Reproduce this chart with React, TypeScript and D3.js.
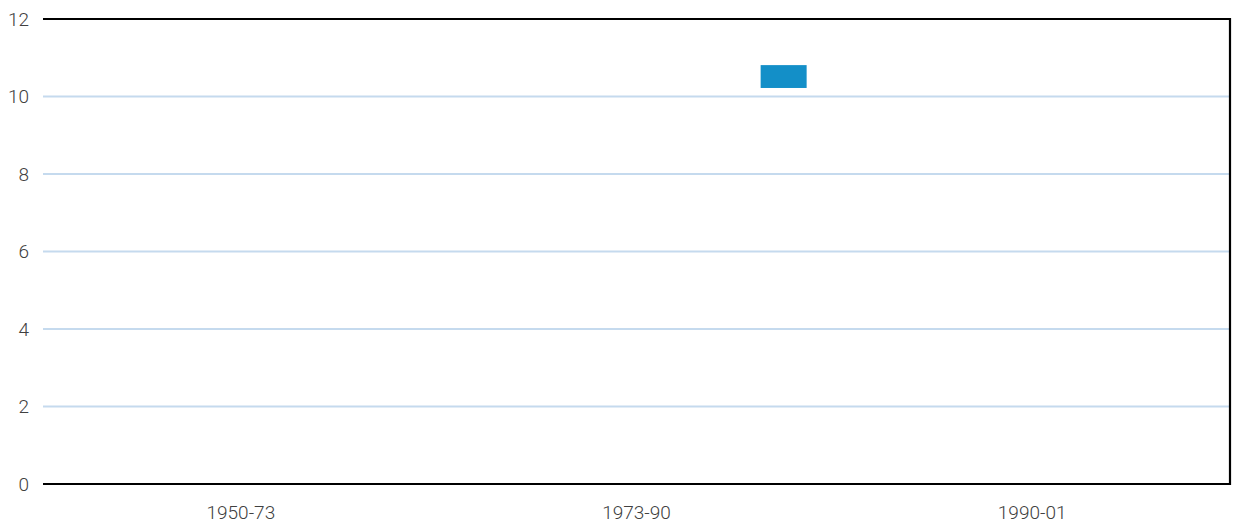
import React from "react";
import * as d3 from "d3";

const categories = ["1950-73", "1973-90", "1990-01"];
const seriesKeys = ["s1", "s2", "s3", "s4", "s5", "s6", "s7", "s8"];
// floating bars: category, series, low, high
const barCategory = ["1973-90"];
const barSeries = ["s8"];
const barLow = [10.22];
const barHigh = [10.81];
const yTicks = [0, 2, 4, 6, 8, 10, 12];

const W = 1237;
const H = 527;
const margin = { left: 43, right: 7, top: 19, bottom: 43 };

export default function App() {
  const x = d3
    .scaleBand<string>()
    .domain(categories)
    .range([margin.left, W - margin.right])
    .padding(0);
  const bw = x.bandwidth();
  const x1 = d3.scaleBand<string>().domain(seriesKeys).range([0, bw * 0.93]).padding(0);
  const y = d3.scaleLinear().domain([0, 12]).range([H - margin.bottom, margin.top]);
  const font = "Roboto, 'Open Sans', sans-serif";
  const x0 = margin.left;
  const xEnd = W - margin.right;

  return (
    <svg
      width={W}
      height={H}
      style={{ position: "absolute", left: 0, top: 0, background: "#fff" }}
    >
      {yTicks.map((t) => (
        <g key={t}>
          {t > 0 && t < 12 && (
            <line x1={x0} x2={xEnd} y1={y(t)} y2={y(t)} stroke="#c5daee" strokeWidth={2} />
          )}
          <text
            x={29}
            y={y(t)}
            textAnchor="end"
            dominantBaseline="central"
            fontFamily={font}
            fontWeight={300}
            fontSize={19}
            fill="#404040"
          >
            {t}
          </text>
        </g>
      ))}
      {barCategory.map((c, i) => (
        <rect
          key={i}
          x={(x(c) as number) + (x1(barSeries[i]) as number)}
          width={x1.bandwidth()}
          y={y(barHigh[i])}
          height={y(barLow[i]) - y(barHigh[i])}
          fill="#138fc8"
        />
      ))}
      <line x1={x0} x2={xEnd} y1={y(12)} y2={y(12)} stroke="#000" strokeWidth={2.2} />
      <line x1={x0} x2={xEnd} y1={y(0)} y2={y(0)} stroke="#000" strokeWidth={2.2} />
      <line x1={xEnd} x2={xEnd} y1={y(12) - 1} y2={y(0) + 1} stroke="#000" strokeWidth={2.2} />
      {categories.map((c) => (
        <text
          key={c}
          x={(x(c) as number) + bw / 2}
          y={512}
          textAnchor="middle"
          dominantBaseline="central"
          fontFamily={font}
          fontWeight={300}
          fontSize={19}
          fill="#404040"
        >
          {c}
        </text>
      ))}
    </svg>
  );
}
